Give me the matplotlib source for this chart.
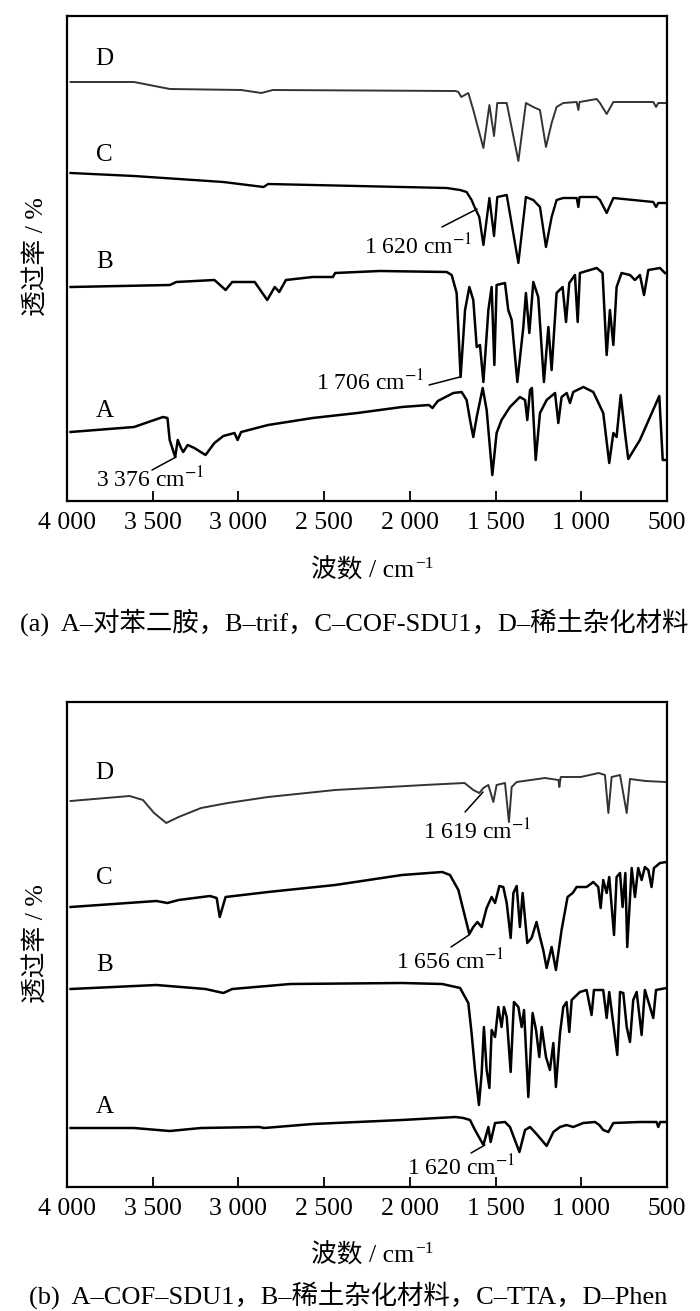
import matplotlib
matplotlib.use('Agg')
import matplotlib.pyplot as plt

plt.rcParams['font.family'] = ['Liberation Serif', 'Noto Sans CJK SC']
plt.rcParams['mathtext.fontset'] = 'stix'

# wavenumber ticks
tick_vals = [4000, 3500, 3000, 2500, 2000, 1500, 1000, 500]
tick_labels = ['4 000', '3 500', '3 000', '2 500', '2 000', '1 500', '1 000', '500']

# ---- panel (a): transmittance, offset, arbitrary units ----
a_D_wn = [3979, 3609, 3400, 2984, 2866, 2800, 1733, 1717, 1700, 1659, 1630, 1571, 1536, 1509, 1490, 1435,
          1367, 1323, 1280, 1241, 1206, 1173, 1144, 1105, 1027, 1017, 1010, 910, 891, 852, 813, 580, 564, 551, 502]
a_D_T = [419, 419, 412, 411, 408, 411, 410, 409, 404, 408, 391, 353, 396, 365, 398, 398,
         340, 398, 394, 391, 354, 378, 394, 398, 399, 391, 399, 402, 398, 387, 399, 399, 394, 398, 398]

a_C_wn = [3979, 3609, 3088, 2853, 2827, 1785, 1707, 1669, 1640, 1620, 1595, 1571, 1536, 1509, 1490, 1435,
          1367, 1323, 1280, 1241, 1206, 1173, 1144, 1105, 1027, 1017, 1010, 910, 891, 852, 813, 580, 564, 551, 502]
a_C_T = [328, 325, 319, 314, 317, 313, 311, 309, 301, 293, 284, 256, 303, 265, 304, 306,
         238, 304, 301, 294, 254, 284, 301, 303, 303, 294, 304, 304, 301, 288, 303, 299, 294, 298, 298]

a_B_wn = [3979, 3400, 3362, 3140, 3075, 3036, 2905, 2832, 2788, 2762, 2723, 2567, 2449, 2436, 2176, 1785,
          1756, 1727, 1704, 1678, 1653, 1630, 1610, 1591, 1571, 1542, 1523, 1507, 1494, 1445, 1426, 1406,
          1373, 1338, 1323, 1303, 1280, 1251, 1218, 1192, 1173, 1144, 1109, 1089, 1070, 1037, 1021, 1008,
          910, 876, 852, 833, 813, 794, 765, 716, 687, 658, 634, 609, 541, 512]
a_B_T = [214, 216, 219, 221, 211, 219, 219, 201, 214, 209, 221, 224, 224, 228, 230, 229,
         226, 208, 124, 191, 214, 201, 154, 156, 119, 191, 214, 136, 216, 218, 191, 181,
         119, 174, 208, 168, 219, 204, 119, 174, 131, 208, 214, 179, 218, 226, 179, 228,
         233, 228, 146, 191, 156, 214, 228, 226, 221, 226, 206, 231, 233, 228]

a_A_wn = [3979, 3609, 3440, 3414, 3401, 3369, 3354, 3335, 3322, 3296, 3257, 3192, 3140, 3088, 3023, 3005,
          2984, 2827, 2567, 2306, 2046, 1889, 1868, 1837, 1746, 1698, 1669, 1649, 1630, 1610, 1575, 1552,
          1519, 1494, 1465, 1416, 1358, 1328, 1315, 1299, 1288, 1266, 1241, 1202, 1153, 1134, 1115, 1085,
          1066, 1047, 988, 930, 872, 837, 813, 794, 770, 745, 726, 658, 599, 545, 525, 500]
a_A_T = [69, 74, 84, 83, 61, 44, 61, 53, 49, 56, 53, 46, 58, 65, 68, 61,
         69, 76, 83, 88, 94, 96, 93, 100, 108, 109, 101, 81, 64, 84, 113, 91,
         26, 68, 81, 94, 104, 101, 81, 111, 113, 41, 88, 101, 108, 78, 104, 108,
         98, 109, 114, 109, 88, 38, 68, 64, 106, 68, 42, 61, 84, 105, 41, 41]

# ---- panel (b) ----
b_D_wn = [3979, 3635, 3557, 3492, 3421, 3349, 3218, 3062, 2827, 2436, 1915, 1681, 1630, 1595, 1571, 1542,
          1513, 1494, 1445, 1422, 1406, 1377, 1212, 1133, 1128, 1120, 1003, 899, 862, 842, 823, 774,
          735, 716, 625, 508]
b_D_T = [386, 391, 387, 374, 364, 370, 379, 384, 390, 397, 402, 404, 397, 394, 399, 402,
         385, 402, 404, 365, 400, 405, 409, 407, 400, 410, 410, 414, 412, 374, 410, 412,
         374, 408, 406, 405]

b_C_wn = [3979, 3479, 3414, 3349, 3166, 3127, 3109, 3075, 2827, 2436, 2046, 1811, 1766, 1717, 1688, 1653,
          1630, 1606, 1581, 1552, 1523, 1503, 1478, 1455, 1435, 1412, 1396, 1377, 1358, 1342, 1315, 1290,
          1261, 1241, 1222, 1202, 1173, 1148, 1115, 1080, 1050, 1027, 969, 930, 901, 887, 872, 852,
          837, 809, 794, 774, 759, 743, 732, 706, 687, 668, 648, 629, 609, 590, 576, 541, 502]
b_C_T = [280, 286, 284, 287, 291, 289, 270, 290, 295, 302, 312, 315, 312, 297, 277, 253,
         260, 265, 260, 279, 290, 284, 301, 300, 284, 249, 294, 301, 260, 294, 244, 249,
         265, 250, 237, 219, 240, 217, 257, 290, 294, 300, 300, 305, 300, 279, 307, 294,
         310, 252, 310, 314, 280, 314, 240, 319, 290, 319, 307, 320, 317, 300, 319, 324, 325]

b_B_wn = [3979, 3479, 3192, 3088, 3036, 2697, 2046, 1811, 1707, 1659, 1640, 1620, 1597, 1581, 1568, 1552,
          1536, 1523, 1503, 1484, 1465, 1451, 1435, 1412, 1393, 1367, 1348, 1334, 1309, 1284, 1264, 1245,
          1231, 1206, 1183, 1163, 1148, 1124, 1105, 1086, 1070, 1056, 1008, 969, 940, 926, 872, 852,
          837, 790, 774, 755, 735, 716, 697, 677, 648, 629, 580, 564, 502]
b_B_T = [198, 202, 198, 194, 198, 203, 204, 203, 199, 184, 154, 117, 82, 114, 160, 117,
         99, 157, 150, 180, 160, 180, 170, 115, 185, 180, 160, 177, 90, 174, 157, 130,
         160, 130, 117, 144, 100, 154, 180, 185, 155, 187, 195, 197, 172, 197, 197, 169,
         195, 132, 195, 194, 160, 145, 187, 195, 152, 197, 169, 197, 199]

b_A_wn = [3979, 3609, 3401, 3218, 2879, 2850, 2567, 2046, 1733, 1688, 1649, 1620, 1571, 1542, 1529, 1503,
          1445, 1416, 1361, 1328, 1299, 1261, 1202, 1163, 1124, 1086, 1047, 988, 920, 895, 872, 842,
          813, 658, 561, 551, 540, 502]
b_A_T = [59, 59, 56, 59, 60, 59, 63, 67, 70, 69, 67, 57, 42, 60, 45, 64,
         65, 60, 35, 57, 60, 53, 41, 55, 60, 62, 60, 64, 65, 62, 57, 55,
         64, 65, 65, 60, 65, 65]

curve_names = ['A', 'B', 'C', 'D']
a_label_T = [90, 239, 346, 442]
b_label_T = [80, 222, 309, 414]

caption_a = '(a)  A–对苯二胺，B–trif，C–COF-SDU1，D–稀土杂化材料'
caption_b = '(b)  A–COF–SDU1，B–稀土杂化材料，C–TTA，D–Phen'

W, H = 700, 1311
fig = plt.figure(figsize=(W / 100, H / 100), dpi=100)
renderer = fig.canvas.get_renderer()


def fx(px):
    return px / W


def fy(py):
    return 1 - py / H


def setup(ax):
    ax.set_xlim(4000, 500)
    ax.set_ylim(0, 485)
    ax.set_xticks(tick_vals)
    ax.set_xticklabels(tick_labels)
    ax.set_yticks([])
    ax.tick_params(axis='x', direction='in', length=7, width=1.3, pad=8, labelsize=18.5)
    for s in ax.spines.values():
        s.set_linewidth(1.6)


def line(ax, x0, y0, x1, y1):
    ax.annotate('', xy=(x1, y1), xytext=(x0, y0),
                arrowprops=dict(arrowstyle='-', lw=1.1, color='k', shrinkA=0, shrinkB=0))


def xlabel(cx, base_y):
    # "波数 / cm" as plain text (CJK fallback), superscript −1 drawn after it
    t = fig.text(0, fy(base_y), '波数 / cm', fontsize=18.5, ha='left', va='baseline')
    s = fig.text(0, fy(base_y - 10), '−1', fontsize=12.5, ha='left', va='baseline')
    wb = t.get_window_extent(renderer).width
    ws = s.get_window_extent(renderer).width
    left = cx - (wb + ws + 1) / 2
    t.set_x(fx(left))
    s.set_x(fx(left + wb + 1))


ax1 = fig.add_axes([fx(67), fy(501), fx(600), 485 / H])
setup(ax1)
ax1.plot(a_A_wn, a_A_T, color='k', lw=1.8)
ax1.plot(a_B_wn, a_B_T, color='k', lw=1.8)
ax1.plot(a_C_wn, a_C_T, color='k', lw=1.7)
ax1.plot(a_D_wn, a_D_T, color='#333333', lw=1.4)
for n, t in zip(curve_names, a_label_T):
    ax1.text(3780, t, n, fontsize=18, ha='center', va='center')
ax1.text(1953, 254, '1 620 cm$^{-1}$', fontsize=17, ha='center', va='center')
line(ax1, 1813, 274, 1608, 292)
ax1.text(2233, 118, '1 706 cm$^{-1}$', fontsize=17, ha='center', va='center')
line(ax1, 1888, 116, 1708, 124)
ax1.text(3516, 21, '3 376 cm$^{-1}$', fontsize=17, ha='center', va='center')
line(ax1, 3504, 31, 3364, 44)

ax2 = fig.add_axes([fx(67), fy(1187), fx(600), 485 / H])
setup(ax2)
ax2.plot(b_A_wn, b_A_T, color='k', lw=1.8)
ax2.plot(b_B_wn, b_B_T, color='k', lw=1.8)
ax2.plot(b_C_wn, b_C_T, color='k', lw=1.8)
ax2.plot(b_D_wn, b_D_T, color='#333333', lw=1.4)
for n, t in zip(curve_names, b_label_T):
    ax2.text(3780, t, n, fontsize=18, ha='center', va='center')
ax2.text(1608, 355, '1 619 cm$^{-1}$', fontsize=17, ha='center', va='center')
line(ax2, 1678, 375, 1573, 395)
ax2.text(1766, 225, '1 656 cm$^{-1}$', fontsize=17, ha='center', va='center')
line(ax2, 1760, 240, 1655, 252)
ax2.text(1702, 19, '1 620 cm$^{-1}$', fontsize=17, ha='center', va='center')
line(ax2, 1643, 34, 1562, 42)

# axis titles and captions
for yl, xl, cap, cy, cap_x in [(257, 578, caption_a, 622, 354), (944, 1263, caption_b, 1295, 348)]:
    fig.text(fx(36), fy(yl), '透过率 / %', rotation=90, fontsize=18.5, ha='center', va='center')
    xlabel(372, xl)
    fig.text(fx(cap_x), fy(cy), cap, fontsize=19, ha='center', va='center')

fig.savefig('out.png', dpi=100)
